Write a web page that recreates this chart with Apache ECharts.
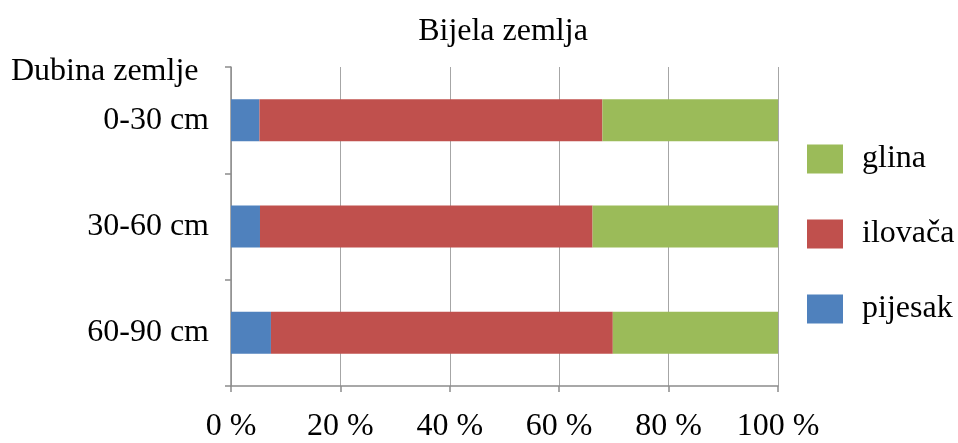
<!DOCTYPE html>
<html>
<head>
<meta charset="utf-8">
<script src="https://cdn.jsdelivr.net/npm/echarts@6/dist/echarts.min.js"></script>
<style>
  html, body { margin: 0; padding: 0; background: #fff; }
  #chart { width: 958px; height: 443px; }
</style>
</head>
<body>
<div id="chart"></div>
<script>
// Soil composition by depth (percent of sample)
const depths = ['0-30 cm', '30-60 cm', '60-90 cm'];
const pijesak = [5.2, 5.3, 7.3];
const ilovaca = [62.7, 60.8, 62.5];
const glina = [32.1, 33.9, 30.2];
const xTicks = [0, 20, 40, 60, 80, 100];

const serif = '"Liberation Serif", "DejaVu Serif", serif';
const fs = 32;
const chart = echarts.init(document.getElementById('chart'));

chart.setOption({
  animation: false,
  backgroundColor: '#fff',
  title: [
    { text: 'Bijela zemlja', left: 498, top: 11, textAlign: 'center',
      textStyle: { fontFamily: serif, fontSize: fs, fontWeight: 'normal', color: '#000' } },
    { text: 'Dubina zemlje', left: 6, top: 51,
      textStyle: { fontFamily: serif, fontSize: fs, fontWeight: 'normal', color: '#000' } }
  ],
  legend: {
    orient: 'vertical',
    left: 802,
    top: 138,
    itemWidth: 36,
    itemHeight: 29,
    itemGap: 43,
    icon: 'rect',
    data: ['glina', 'ilovača', 'pijesak'],
    textStyle: { fontFamily: serif, fontSize: fs, color: '#000', padding: [0, 0, 0, 14] }
  },
  grid: { left: 231, right: 180, top: 67, height: 323 },
  xAxis: {
    type: 'value',
    min: xTicks[0],
    max: xTicks[xTicks.length - 1],
    interval: 20,
    axisLine: { show: true, lineStyle: { color: '#8c8c8c', width: 1.5 } },
    axisTick: { show: true, length: 6, lineStyle: { color: '#8c8c8c', width: 1.5 } },
    splitLine: { show: true, lineStyle: { color: '#a6a6a6', width: 1 } },
    axisLabel: {
      margin: 25,
      fontFamily: serif, fontSize: fs, color: '#000',
      formatter: v => v + ' %'
    }
  },
  yAxis: {
    type: 'category',
    inverse: true,
    data: depths,
    axisLine: { show: true, lineStyle: { color: '#8c8c8c', width: 1.5 } },
    axisTick: { show: true, length: 6, inside: false, lineStyle: { color: '#8c8c8c', width: 1.5 } },
    axisLabel: { margin: 22, fontFamily: serif, fontSize: fs, color: '#000' }
  },
  series: [
    { name: 'pijesak', type: 'bar', stack: 'soil', barWidth: 42, data: pijesak,
      itemStyle: { color: '#4F81BD' } },
    { name: 'ilovača', type: 'bar', stack: 'soil', barWidth: 42, data: ilovaca,
      itemStyle: { color: '#C0504D' } },
    { name: 'glina', type: 'bar', stack: 'soil', barWidth: 42, data: glina,
      itemStyle: { color: '#9BBB59' } }
  ]
});
</script>
</body>
</html>
